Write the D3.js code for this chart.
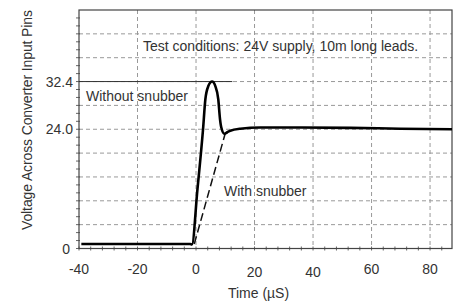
<!DOCTYPE html>
<html lang="en">
<head>
  <meta charset="UTF-8">
  <title>Snubber Transient</title>
  <script src="https://d3js.org/d3.v7.min.js"></script>
  <style>
    body { margin: 0; background: #fff; }
    text { font-family: "Liberation Sans", Arial, sans-serif; fill: #333; }
    .grid { stroke: #999; stroke-width: 1; stroke-dasharray: 4,3; }
    .frame { stroke: #444; stroke-width: 1.2; fill: none; }
  </style>
</head>
<body>
  <svg id="chart" width="454" height="307"></svg>

  <script>
    // time (µs) and voltage
    const withoutTime = [-39.2, -2.0, -1.4, 0.5, 2.4, 3.2, 4.2, 5.5, 6.6, 7.6, 8.2, 8.6, 9.7, 10.7, 11.7, 15.1, 22, 35.7, 52.8, 69.8, 87.5];
    const withoutVolts = [0.9, 0.9, 0.8, 12.0, 24.0, 29.3, 31.6, 32.4, 31.6, 29.3, 25.8, 24.4, 23.1, 23.4, 23.7, 24.1, 24.3, 24.3, 24.25, 24.1, 24.0];
    const withTime = [-0.6, 10.0];
    const withVolts = [0.9, 23.2];

    const xTicks = [-40, -20, 0, 20, 40, 60, 80];
    const yLabels = [0, 24.0, 32.4];
    const yGrid = [4.8, 9.6, 14.4, 19.2, 24, 28.2, 32.4, 36.6, 40.8, 45];

    const svg = d3.select("#chart");
    const plotLeft = 79, plotRight = 452, plotTop = 10, plotBottom = 248.5;

    const x = d3.scaleLinear().domain([-40, 87.5]).range([plotLeft, plotRight]);
    // the printed scale is not uniform: 24.0 sits at 5 divisions, 32.4 at 7
    const y = d3.scaleLinear().domain([0, 24, 32.4, 45]).range([plotBottom, 129.25, 81.55, plotTop]);

    // grid
    svg.append("g").selectAll("line")
      .data(xTicks.filter(d => d > -40))
      .join("line")
      .attr("class", "grid")
      .attr("x1", d => x(d)).attr("x2", d => x(d))
      .attr("y1", plotTop).attr("y2", plotBottom);

    svg.append("g").selectAll("line")
      .data(yGrid.slice(0, -1))
      .join("line")
      .attr("class", "grid")
      .attr("x1", plotLeft).attr("x2", plotRight)
      .attr("y1", d => y(d)).attr("y2", d => y(d));

    // minor ticks
    const xMinor = d3.range(-40, 88, 4);
    svg.append("g").selectAll("line")
      .data(xMinor)
      .join("line")
      .attr("stroke", "#666")
      .attr("x1", d => x(d)).attr("x2", d => x(d))
      .attr("y1", plotBottom - 2).attr("y2", plotBottom + 2);

    const yStops = [0].concat(yGrid);
    const yMinor = [];
    for (let i = 0; i < yStops.length - 1; i++) {
      for (let k = 0; k < 3; k++) yMinor.push(yStops[i] + (yStops[i + 1] - yStops[i]) * k / 3);
    }
    svg.append("g").selectAll("line")
      .data(yMinor)
      .join("line")
      .attr("stroke", "#666")
      .attr("x1", plotLeft - 3).attr("x2", plotLeft + 1)
      .attr("y1", d => y(d)).attr("y2", d => y(d));

    // frame
    svg.append("rect")
      .attr("class", "frame")
      .attr("x", plotLeft).attr("y", plotTop)
      .attr("width", plotRight - plotLeft).attr("height", plotBottom - plotTop);

    // 32.4 reference line
    svg.append("line")
      .attr("stroke", "#333").attr("stroke-width", 1)
      .attr("x1", plotLeft).attr("x2", x(12.4))
      .attr("y1", y(32.4)).attr("y2", y(32.4));

    // tick labels
    svg.append("g").selectAll("text")
      .data(xTicks)
      .join("text")
      .attr("x", d => x(d))
      .attr("y", d => (d === 20 || d === 40) ? 276.5 : 273.5)
      .attr("text-anchor", "middle")
      .attr("font-size", 14)
      .text(d => d);

    svg.append("g").selectAll("text")
      .data(yLabels)
      .join("text")
      .attr("x", d => d === 0 ? 70 : 73)
      .attr("y", d => y(d) + 5)
      .attr("text-anchor", "end")
      .attr("font-size", 14)
      .text(d => d === 0 ? "0" : d.toFixed(1));

    // axis titles
    svg.append("text")
      .attr("x", x(20) + 4).attr("y", 298)
      .attr("text-anchor", "middle")
      .attr("font-size", 14)
      .text("Time (µS)");

    svg.append("text")
      .attr("transform", "translate(32,120) rotate(-90)")
      .attr("text-anchor", "middle")
      .attr("font-size", 14)
      .attr("textLength", 220)
      .text("Voltage Across Converter Input Pins");

    // curves
    const withoutData = withoutTime.map((t, i) => [t, withoutVolts[i]]);
    const withData = withTime.map((t, i) => [t, withVolts[i]]);

    svg.append("path")
      .datum(withData)
      .attr("fill", "none")
      .attr("stroke", "#111")
      .attr("stroke-width", 1.5)
      .attr("stroke-dasharray", "8,4")
      .attr("d", d3.line().x(d => x(d[0])).y(d => y(d[1])));

    svg.append("path")
      .datum(withoutData)
      .attr("fill", "none")
      .attr("stroke", "#000")
      .attr("stroke-width", 2.6)
      .attr("stroke-linejoin", "round")
      .attr("d", d3.line().x(d => x(d[0])).y(d => y(d[1])).curve(d3.curveMonotoneX));

    // annotations
    svg.append("text")
      .attr("x", 143).attr("y", 51)
      .attr("font-size", 14)
      .text("Test conditions: 24V supply, 10m long leads.");

    svg.append("text")
      .attr("x", 86).attr("y", 101)
      .attr("font-size", 14)
      .text("Without snubber");

    svg.append("text")
      .attr("x", 224).attr("y", 196)
      .attr("font-size", 14)
      .text("With snubber");
  </script>
</body>
</html>
